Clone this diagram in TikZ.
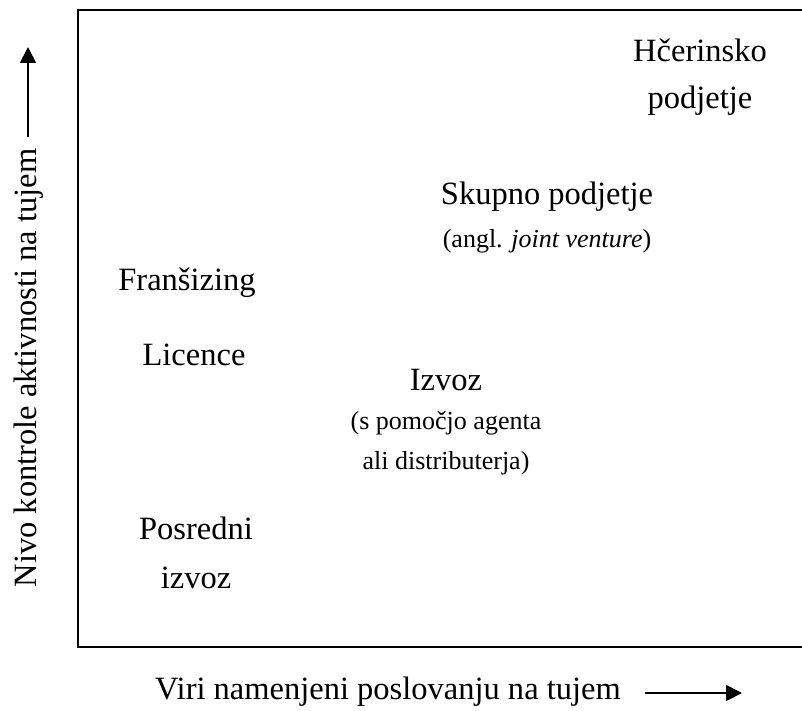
\documentclass[tikz,border=0pt]{standalone}
\usepackage{fontspec}
\setmainfont{Liberation Serif}
\usetikzlibrary{arrows.meta}
\begin{document}
\begin{tikzpicture}[x=1pt,y=-1pt,
  big/.style={font=\fontsize{32.5}{38}\selectfont, inner sep=0pt},
  small/.style={font=\fontsize{26}{31}\selectfont, inner sep=0pt},
  axarrow/.style={line width=1.8pt, -{Triangle[length=16pt,width=16pt]}}]
\useasboundingbox (0,0) rectangle (802,711);
\draw[line width=2.2pt] (78,10) rectangle (806,647);
\node[big] (hcer1) at (700,50) {Hčerinsko};
\node[big] (hcer2) at (700,101) {podjetje};
\node[big] (skupno) at (547,197) {Skupno podjetje};
\node[small] (angl) at (547,241) {(angl. \textit{joint venture})};
\node[big] (fran) at (187,283) {Franšizing};
\node[big] (lic) at (194,355) {Licence};
\node[big] (izvoz) at (446,380) {Izvoz};
\node[small] (izv2) at (446,423) {(s pomočjo agenta};
\node[small] (izv3) at (446,463) {ali distributerja)};
\node[big] (pos1) at (196,528) {Posredni};
\node[big] (pos2) at (196,578) {izvoz};
\node[big] (xlab) at (388,692) {Viri namenjeni poslovanju na tujem};
\node[big, rotate=90] (ylab) at (29,368) {Nivo kontrole aktivnosti na tujem};
\coordinate (xa) at (645,693);
\coordinate (xb) at (742,693);
\coordinate (ya) at (28,137);
\coordinate (yb) at (28,47);
\draw[axarrow] (xa) -- (xb);
\draw[axarrow] (ya) -- (yb);
\end{tikzpicture}
\end{document}
